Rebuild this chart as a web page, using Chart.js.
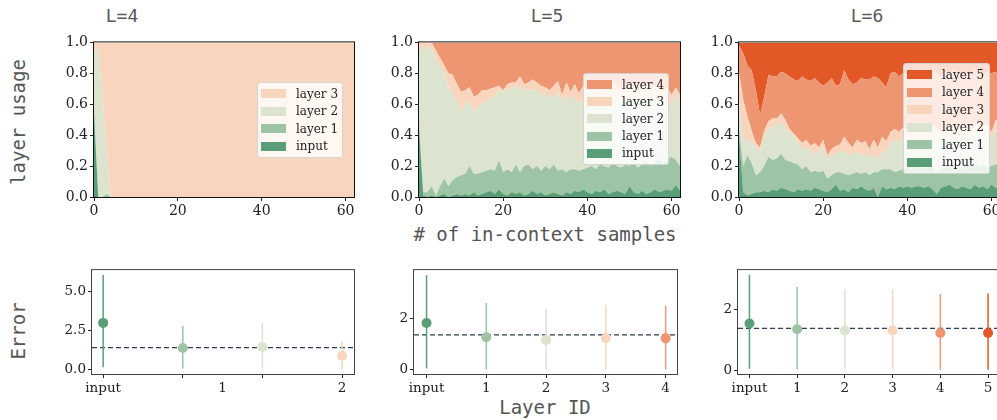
<!DOCTYPE html>
<html>
<head>
<meta charset="utf-8">
<script src="https://cdn.jsdelivr.net/npm/chart.js@4"></script>
<style>
html, body { margin: 0; padding: 0; width: 997px; height: 420px; overflow: hidden; background: #fff; }
canvas { position: absolute; }
.lab { position: absolute; font-family: 'DejaVu Sans Mono', monospace; font-size: 19px; color: #555; white-space: nowrap; transform: translate(-50%, -50%); }
.rot { transform: translate(-50%, -50%) rotate(-90deg); }
.legend { position: absolute; box-sizing: border-box; background: rgba(255,255,255,0.8); border: 1px solid #d4d4d4; border-radius: 3px;
  font-family: 'DejaVu Serif', serif; font-size: 12px; color: #222; padding: 2px 3px 2px 3px; }
.legend div { display: flex; align-items: center; }
.legend span { display: inline-block; width: 25px; height: 9px; margin-right: 10px; }
</style>
</head>
<body>
<div class="lab" style="left:122px;top:15px;font-size:18px;color:#5a5a5a">L=4</div>
<div class="lab" style="left:547px;top:15px;font-size:18px;color:#5a5a5a">L=5</div>
<div class="lab" style="left:867px;top:15px;font-size:18px;color:#5a5a5a">L=6</div>
<div class="lab rot" style="left:18px;top:122px">layer usage</div>
<div class="lab rot" style="left:18px;top:331px">Error</div>
<div class="lab" style="left:545px;top:234px"># of in-context samples</div>
<div class="lab" style="left:545px;top:407px">Layer ID</div>

<canvas id="u4"></canvas>
<canvas id="u5"></canvas>
<canvas id="u6"></canvas>
<canvas id="e4"></canvas>
<canvas id="e5"></canvas>
<canvas id="e6"></canvas>

<script>
// x axis of the usage plots: number of in-context samples
const samples = Array.from({length: 63}, (_, i) => i);
const layerNames = ['input', 'layer 1', 'layer 2', 'layer 3', 'layer 4', 'layer 5'];
const layerColors = ['#5a9e78', '#9dc4a4', '#dce3cf', '#f8d5bc', '#ee9672', '#e35827'];

// cumulative usage (top edge of each stacked band), L=4
const l4InputTop = [0.55, 0, 0, 0, 0, 0, 0, 0, 0, 0,
  0, 0, 0, 0, 0, 0, 0, 0, 0, 0,  0, 0, 0, 0, 0, 0, 0, 0, 0, 0,
  0, 0, 0, 0, 0, 0, 0, 0, 0, 0,  0, 0, 0, 0, 0, 0, 0, 0, 0, 0,
  0, 0, 0, 0, 0, 0, 0, 0, 0, 0,  0, 0, 0];
const l4Layer1Top = [0.58, 0, 0, 0.02, 0, 0, 0, 0, 0, 0,
  0, 0, 0, 0, 0, 0, 0, 0, 0, 0,  0, 0, 0, 0, 0, 0, 0, 0, 0, 0,
  0, 0, 0, 0, 0, 0, 0, 0, 0, 0,  0, 0, 0, 0, 0, 0, 0, 0, 0, 0,
  0, 0, 0, 0, 0, 0, 0, 0, 0, 0,  0, 0, 0];
const l4Layer2Top = [0.93, 0.97, 0.65, 0.33, 0, 0, 0, 0, 0, 0,
  0, 0, 0, 0, 0, 0, 0, 0, 0, 0,  0, 0, 0, 0, 0, 0, 0, 0, 0, 0,
  0, 0, 0, 0, 0, 0, 0, 0, 0, 0,  0, 0, 0, 0, 0, 0, 0, 0, 0, 0,
  0, 0, 0, 0, 0, 0, 0, 0, 0, 0,  0, 0, 0];

// L=5
const l5InputTop = [
  0.45, 0.01, 0.00, 0.01, 0.00, 0.01, 0.02, 0.00, 0.01, 0.02,
  0.01, 0.02, 0.01, 0.03, 0.01, 0.02, 0.03, 0.04, 0.02, 0.05,
  0.02, 0.01, 0.03, 0.02, 0.03, 0.01, 0.02, 0.04, 0.02, 0.03,
  0.01, 0.02, 0.03, 0.02, 0.01, 0.03, 0.02, 0.04, 0.03, 0.05,
  0.03, 0.02, 0.04, 0.03, 0.05, 0.02, 0.03, 0.04, 0.03, 0.02,
  0.07, 0.03, 0.02, 0.04, 0.02, 0.03, 0.05, 0.03, 0.04, 0.05,
  0.04, 0.08, 0.04];
const l5Layer1Top = [
  0.50, 0.03, 0.03, 0.07, 0.01, 0.07, 0.12, 0.07, 0.11, 0.13,
  0.14, 0.15, 0.20, 0.15, 0.15, 0.16, 0.17, 0.18, 0.17, 0.24,
  0.16, 0.18, 0.16, 0.21, 0.16, 0.20, 0.21, 0.18, 0.20, 0.17,
  0.20, 0.18, 0.21, 0.17, 0.18, 0.16, 0.18, 0.18, 0.17, 0.18,
  0.19, 0.20, 0.18, 0.21, 0.20, 0.19, 0.22, 0.20, 0.19, 0.21,
  0.20, 0.22, 0.19, 0.21, 0.23, 0.20, 0.22, 0.25, 0.22, 0.24,
  0.26, 0.24, 0.20];
const l5Layer2Top = [
  0.93, 0.97, 0.97, 0.96, 0.89, 0.85, 0.80, 0.71, 0.67, 0.62,
  0.56, 0.60, 0.63, 0.55, 0.58, 0.60, 0.62, 0.64, 0.65, 0.69,
  0.68, 0.70, 0.69, 0.72, 0.71, 0.69, 0.69, 0.69, 0.69, 0.67,
  0.66, 0.66, 0.64, 0.68, 0.62, 0.66, 0.62, 0.65, 0.60, 0.64,
  0.62, 0.65, 0.63, 0.60, 0.64, 0.62, 0.66, 0.63, 0.61, 0.65,
  0.62, 0.64, 0.60, 0.63, 0.66, 0.61, 0.64, 0.62, 0.60, 0.63,
  0.60, 0.67, 0.56];
const l5Layer3Top = [
  0.99, 1.00, 1.00, 1.00, 0.95, 0.90, 0.85, 0.80, 0.79, 0.73,
  0.68, 0.69, 0.71, 0.65, 0.66, 0.69, 0.69, 0.70, 0.71, 0.72,
  0.69, 0.73, 0.74, 0.74, 0.78, 0.73, 0.74, 0.76, 0.74, 0.72,
  0.71, 0.69, 0.72, 0.75, 0.66, 0.74, 0.68, 0.73, 0.67, 0.72,
  0.70, 0.74, 0.71, 0.68, 0.73, 0.70, 0.75, 0.71, 0.69, 0.74,
  0.70, 0.72, 0.68, 0.71, 0.74, 0.69, 0.72, 0.70, 0.68, 0.71,
  0.66, 0.71, 0.66];

// L=6
const l6InputTop = [
  0.40, 0.03, 0.01, 0.02, 0.03, 0.03, 0.04, 0.03, 0.05, 0.04,
  0.06, 0.05, 0.04, 0.03, 0.05, 0.04, 0.05, 0.04, 0.06, 0.05,
  0.04, 0.03, 0.05, 0.08, 0.04, 0.05, 0.03, 0.06, 0.05, 0.07,
  0.05, 0.04, 0.06, 0.00, 0.07, 0.05, 0.06, 0.05, 0.07, 0.06,
  0.07, 0.06, 0.07, 0.07, 0.06, 0.07, 0.05, 0.02, 0.06, 0.07,
  0.08, 0.06, 0.05, 0.07, 0.06, 0.05, 0.08, 0.06, 0.07, 0.05,
  0.08, 0.06, 0.07];
const l6Layer1Top = [
  0.45, 0.20, 0.27, 0.22, 0.14, 0.16, 0.20, 0.26, 0.24, 0.25,
  0.28, 0.24, 0.23, 0.22, 0.21, 0.18, 0.20, 0.16, 0.17, 0.16,
  0.17, 0.12, 0.14, 0.16, 0.16, 0.15, 0.14, 0.15, 0.16, 0.15,
  0.16, 0.14, 0.16, 0.16, 0.18, 0.18, 0.18, 0.16, 0.17, 0.18,
  0.19, 0.18, 0.20, 0.19, 0.18, 0.20, 0.19, 0.15, 0.18, 0.20,
  0.19, 0.21, 0.20, 0.18, 0.21, 0.20, 0.22, 0.20, 0.21, 0.19,
  0.20, 0.21, 0.22];
const l6Layer2Top = [
  0.62, 0.38, 0.37, 0.36, 0.32, 0.30, 0.39, 0.44, 0.46, 0.46,
  0.49, 0.44, 0.42, 0.40, 0.35, 0.32, 0.30, 0.32, 0.27, 0.30,
  0.32, 0.24, 0.27, 0.28, 0.29, 0.30, 0.27, 0.28, 0.29, 0.27,
  0.28, 0.25, 0.28, 0.24, 0.29, 0.30, 0.35, 0.37, 0.36, 0.38,
  0.36, 0.39, 0.37, 0.35, 0.38, 0.36, 0.40, 0.37, 0.35, 0.38,
  0.36, 0.39, 0.37, 0.40, 0.38, 0.36, 0.39, 0.41, 0.38, 0.40,
  0.39, 0.44, 0.42];
const l6Layer3Top = [
  0.80, 0.63, 0.52, 0.43, 0.35, 0.32, 0.43, 0.49, 0.51, 0.51,
  0.54, 0.50, 0.44, 0.41, 0.38, 0.35, 0.37, 0.33, 0.35, 0.32,
  0.37, 0.27, 0.31, 0.33, 0.34, 0.39, 0.35, 0.32, 0.37, 0.35,
  0.36, 0.31, 0.37, 0.32, 0.39, 0.36, 0.42, 0.44, 0.42, 0.45,
  0.43, 0.46, 0.44, 0.41, 0.45, 0.43, 0.47, 0.44, 0.42, 0.45,
  0.43, 0.46, 0.44, 0.47, 0.45, 0.43, 0.46, 0.48, 0.45, 0.47,
  0.42, 0.50, 0.48];
const l6Layer4Top = [
  0.98, 0.93, 0.85, 0.82, 0.69, 0.53, 0.65, 0.79, 0.78, 0.78,
  0.81, 0.80, 0.78, 0.76, 0.75, 0.78, 0.76, 0.75, 0.77, 0.74,
  0.72, 0.74, 0.77, 0.72, 0.73, 0.82, 0.76, 0.73, 0.74, 0.77,
  0.76, 0.76, 0.78, 0.77, 0.74, 0.71, 0.80, 0.81, 0.78, 0.80,
  0.79, 0.82, 0.80, 0.78, 0.81, 0.79, 0.83, 0.80, 0.78, 0.81,
  0.79, 0.82, 0.80, 0.78, 0.81, 0.79, 0.82, 0.80, 0.78, 0.81,
  0.80, 0.81, 0.80];

// error per layer (mean and bar ends)
const refError = 1.38;
const e4Mean = [2.98, 1.36, 1.42, 0.86];
const e4Low  = [0.12, 0.03, 0.04, 0.00];
const e4High = [6.08, 2.80, 2.98, 1.78];
const e5Mean = [1.84, 1.28, 1.18, 1.25, 1.24];
const e5Low  = [0.06, 0.02, 0.02, 0.02, 0.02];
const e5High = [3.72, 2.63, 2.40, 2.56, 2.52];
const e6Mean = [1.54, 1.35, 1.31, 1.31, 1.23, 1.23];
const e6Low  = [0.06, 0.04, 0.04, 0.04, 0.03, 0.03];
const e6High = [3.13, 2.74, 2.66, 2.66, 2.50, 2.52];

// tick labels
const usageTicks = [0, 0.2, 0.4, 0.6, 0.8, 1.0];
const sampleTicks = [0, 20, 40, 60];
const e4XTicks = [0, 1, 1.5, 2, 3];
const e4XLabels = ['input', '', '1', '', '2'];
const e4XMarks = [true, true, false, true, true];
const e4YTicks = [0, 2.5, 5];
const e4YLabels = ['0.0', '2.5', '5.0'];
const e5XTicks = [0, 1, 2, 3, 4];
const e5XLabels = ['input', '1', '2', '3', '4'];
const e6XTicks = [0, 1, 2, 3, 4, 5];
const e6XLabels = ['input', '1', '2', '3', '4', '5'];
const eSmallYTicks = [0, 2];
const eSmallYLabels = ['0', '2'];

const PAD = {l: 50, t: 10, r: 14, b: 26};
const tickFont = {family: "'DejaVu Serif', serif", size: 14};

const frame = {
  id: 'frame',
  afterDraw(chart, args, opts) {
    const {ctx, chartArea: a} = chart;
    ctx.save();
    ctx.strokeStyle = opts.color;
    ctx.lineWidth = 1;
    ctx.strokeRect(a.left - 0.5, a.top - 0.5, a.right - a.left + 1, a.bottom - a.top + 1);
    ctx.restore();
  }
};

function place(id, box) {
  const c = document.getElementById(id);
  c.width = box.w + PAD.l + PAD.r;
  c.height = box.h + PAD.t + PAD.b;
  c.style.left = (box.x - PAD.l) + 'px';
  c.style.top = (box.y - PAD.t) + 'px';
  c.style.width = c.width + 'px';
  c.style.height = c.height + 'px';
  return c;
}

function axis(o) {
  return {
    type: 'linear', min: o.min, max: o.max,
    afterBuildTicks: s => { s.ticks = o.ticks.map(v => ({value: v})); },
    afterFit: o.fit,
    border: {display: false},
    grid: {drawOnChartArea: false, drawTicks: true, tickLength: 4,
           tickColor: ctx => (o.marks && !o.marks[ctx.index]) ? 'rgba(0,0,0,0)' : '#222'},
    ticks: {autoSkip: false, maxRotation: 0, padding: 2, color: '#222', font: o.font || tickFont,
            callback: (v, i) => o.labels[i]}
  };
}

function legendBox(x, y, w, h, names, colors) {
  const d = document.createElement('div');
  d.className = 'legend';
  Object.assign(d.style, {left: x + 'px', top: y + 'px', width: w + 'px', height: h + 'px'});
  const rowH = (h - 6) / names.length;
  names.slice().reverse().forEach((n, k) => {
    const c = colors[names.length - 1 - k];
    const r = document.createElement('div');
    r.style.height = rowH + 'px';
    r.innerHTML = '<span style="background:' + c + '"></span>' + n;
    d.appendChild(r);
  });
  document.body.appendChild(d);
}

function usageChart(id, box, tops, legendPos) {
  const n = tops.length + 1;
  const names = layerNames.slice(0, n);
  const colors = layerColors.slice(0, n);
  const datasets = names.map((name, i) => ({
    label: name,
    data: i < tops.length ? tops[i] : tops[tops.length - 1],
    fill: i === 0 ? 'origin' : (i < tops.length ? '-1' : 'end'),
    backgroundColor: colors[i],
    borderWidth: 0,
    pointRadius: 0,
    tension: 0
  }));
  new Chart(place(id, box), {
    type: 'line',
    data: {labels: samples, datasets},
    options: {
      responsive: false, animation: false, events: [],
      layout: {padding: {left: 10, top: PAD.t, right: PAD.r, bottom: 0}},
      scales: {
        x: axis({min: 0, max: 62, ticks: sampleTicks, labels: sampleTicks.map(String),
                 fit: s => { s.height = PAD.b; }}),
        y: axis({min: 0, max: 1, ticks: usageTicks, labels: usageTicks.map(v => v.toFixed(1)),
                 fit: s => { s.width = PAD.l - 10; }})
      },
      plugins: {legend: {display: false}, tooltip: {enabled: false}, frame: {color: '#111'}}
    },
    plugins: [frame]
  });
  legendBox(legendPos[0], legendPos[1], legendPos[2], legendPos[3], names, colors);
}

function errorChart(id, box, e) {
  const colors = layerColors.slice(0, e.mean.length);
  const datasets = [{
    type: 'scatter',
    data: e.mean.map((m, i) => ({x: i, y: m})),
    pointRadius: 5, pointBorderWidth: 0,
    pointBackgroundColor: colors
  }];
  e.mean.forEach((m, i) => datasets.push({
    type: 'line',
    data: [{x: i, y: e.low[i]}, {x: i, y: e.high[i]}],
    borderColor: colors[i], borderWidth: 1.5, pointRadius: 0
  }));
  datasets.push({
    type: 'line',
    data: [{x: e.xMin, y: refError}, {x: e.xMax, y: refError}],
    borderColor: '#2c3e50', borderWidth: 1.2, borderDash: [5, 3], pointRadius: 0
  });
  const bf = {family: "'DejaVu Serif', serif", size: 13.5};
  new Chart(place(id, box), {
    type: 'scatter',
    data: {datasets},
    options: {
      responsive: false, animation: false, events: [],
      layout: {padding: {left: 10, top: PAD.t, right: PAD.r, bottom: 0}},
      scales: {
        x: axis({min: e.xMin, max: e.xMax, ticks: e.xTicks, labels: e.xLabels, marks: e.xMarks, font: bf,
                 fit: s => { s.height = PAD.b; }}),
        y: axis({min: e.yMin, max: e.yMax, ticks: e.yTicks, labels: e.yLabels, font: bf,
                 fit: s => { s.width = PAD.l - 10; }})
      },
      plugins: {legend: {display: false}, tooltip: {enabled: false}, frame: {color: '#444'}}
    },
    plugins: [frame]
  });
}

usageChart('u4', {x: 94, y: 42, w: 260, h: 155}, [l4InputTop, l4Layer1Top, l4Layer2Top], [257, 82, 86, 76]);
usageChart('u5', {x: 419, y: 42, w: 261, h: 155}, [l5InputTop, l5Layer1Top, l5Layer2Top, l5Layer3Top], [583, 73, 86, 92]);
usageChart('u6', {x: 739, y: 42, w: 261, h: 155}, [l6InputTop, l6Layer1Top, l6Layer2Top, l6Layer3Top, l6Layer4Top], [903, 63, 87, 111]);

errorChart('e4', {x: 92, y: 270, w: 262, h: 104}, {
  mean: e4Mean, low: e4Low, high: e4High, xMin: -0.14, xMax: 3.15,
  xTicks: e4XTicks, xLabels: e4XLabels, xMarks: e4XMarks,
  yMin: -0.32, yMax: 6.39, yTicks: e4YTicks, yLabels: e4YLabels
});
errorChart('e5', {x: 414, y: 270, w: 263, h: 104}, {
  mean: e5Mean, low: e5Low, high: e5High, xMin: -0.21, xMax: 4.19,
  xTicks: e5XTicks, xLabels: e5XLabels,
  yMin: -0.16, yMax: 3.92, yTicks: eSmallYTicks, yLabels: eSmallYLabels
});
errorChart('e6', {x: 738, y: 270, w: 262, h: 104}, {
  mean: e6Mean, low: e6Low, high: e6High, xMin: -0.24, xMax: 5.25,
  xTicks: e6XTicks, xLabels: e6XLabels,
  yMin: -0.11, yMax: 3.28, yTicks: eSmallYTicks, yLabels: eSmallYLabels
});
</script>
</body>
</html>
